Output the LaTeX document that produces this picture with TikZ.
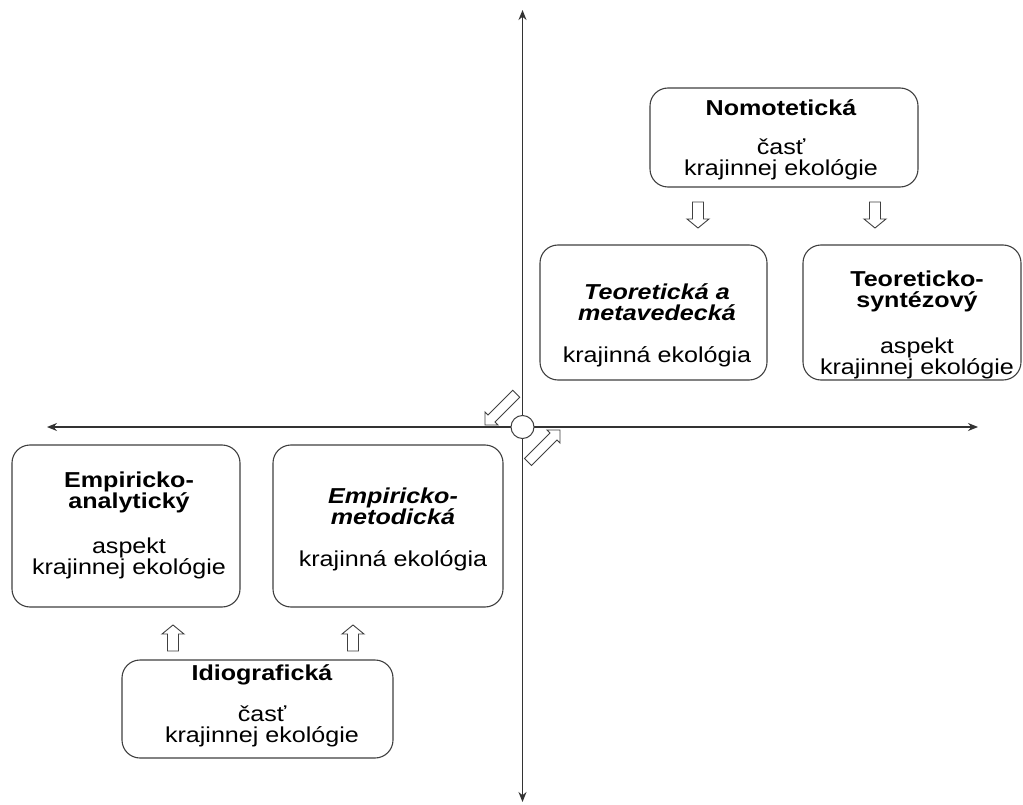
\documentclass[tikz,border=0pt]{standalone}
\usepackage{fontspec}
\setmainfont{Liberation Sans}
\usepackage{graphicx}
\usetikzlibrary{arrows.meta}

% text of a card: centred lines, slightly condensed vertically
\newcommand{\squash}[1]{\scalebox{1}[0.86]{#1}}
\newcommand{\blocktext}[1]{\squash{\begin{tabular}{@{}c@{}}#1\end{tabular}}}

\tikzset{
  uparrow/.pic={\draw[hollow] (0,0) -- (11,9) -- (5.5,9) -- (5.5,26) -- (-5.5,26) -- (-5.5,9) -- (-11,9) -- cycle;},
  downarrow/.pic={\draw[hollow] (0,0) -- (11,-9) -- (5.5,-9) -- (5.5,-26) -- (-5.5,-26) -- (-5.5,-9) -- (-11,-9) -- cycle;}
}

\begin{document}
\begin{tikzpicture}[x=1pt,y=-1pt,
  card/.style={draw=black!75, line width=1.1pt, rounded corners=18pt, inner sep=0pt},
  cardtext/.style={inner sep=0pt, font=\fontsize{25.1}{19.8}\selectfont},
  axis/.style={draw=black!80, line width=1.3pt, {Stealth[length=10pt,width=8pt]}-{Stealth[length=10pt,width=8pt]}},
  hollow/.style={draw=black!75, line width=0.9pt, fill=white, line join=miter},
]
\fill[white] (0,0) rectangle (1023,805);
\useasboundingbox (0,0) rectangle (1023,805);

% axes
\coordinate (top) at (522.5,10);
\coordinate (bottom) at (522.5,802);
\coordinate (left) at (47,427);
\coordinate (right) at (978,427);
\draw[axis] (top) -- (bottom);
\draw[axis] (left) -- (right);

% cards
\node[card, minimum width=268pt, minimum height=99pt] (nomo) at (784,137.5) {};
\node[card, minimum width=227pt, minimum height=135pt] (teo) at (653.5,312.5) {};
\node[card, minimum width=218pt, minimum height=135pt] (syn) at (912,312.5) {};
\node[card, minimum width=228pt, minimum height=162pt] (emp) at (126,526) {};
\node[card, minimum width=230pt, minimum height=162pt] (met) at (388,526) {};
\node[card, minimum width=271pt, minimum height=98pt] (idio) at (257.5,709) {};

% card texts
\node[cardtext] (nomo-t) at (781,140) {\blocktext{\textbf{Nomotetická}\\[20.9pt] časť\\ krajinnej ekológie}};
\node[cardtext] (teo-t) at (657,326) {\blocktext{\textbf{\textit{Teoretická a}}\\ \textbf{\textit{metavedecká}}\\[24.4pt] krajinná ekológia}};
\node[cardtext] (syn-t) at (917,325) {\blocktext{\textbf{Teoreticko-}\\ \textbf{syntézový}\\[29pt] aspekt\\ krajinnej ekológie}};
\node[cardtext] (emp-t) at (129,526) {\blocktext{\textbf{Empiricko-}\\ \textbf{analytický}\\[27.9pt] aspekt\\ krajinnej ekológie}};
\node[cardtext] (met-t) at (393,529.5) {\blocktext{\textbf{\textit{Empiricko-}}\\ \textbf{\textit{metodická}}\\[24.4pt] krajinná ekológia}};
\node[cardtext] (idio-t) at (262,706) {\blocktext{\textbf{Idiografická}\\[23.2pt] časť\\ krajinnej ekológie}};

% small hollow arrows between the cards
\pic at (698,228) {downarrow};
\pic at (875,228) {downarrow};
\pic at (173,625) {uparrow};
\pic at (353,625) {uparrow};

% diagonal hollow arrows at the origin
\draw[hollow] (485,425) -- (485,412) -- (488,415) -- (512.7,390.3) -- (519.7,397.3) -- (495,422) -- (498,425) -- cycle;
\draw[hollow] (560,430) -- (547,430) -- (550,433) -- (524.5,458.5) -- (531.5,465.5) -- (557,440) -- (560,443) -- cycle;

% origin
\node[circle, draw=black!75, fill=white, line width=1pt, minimum size=23pt, inner sep=0pt] (hub) at (522.5,427) {};
\end{tikzpicture}
\end{document}
